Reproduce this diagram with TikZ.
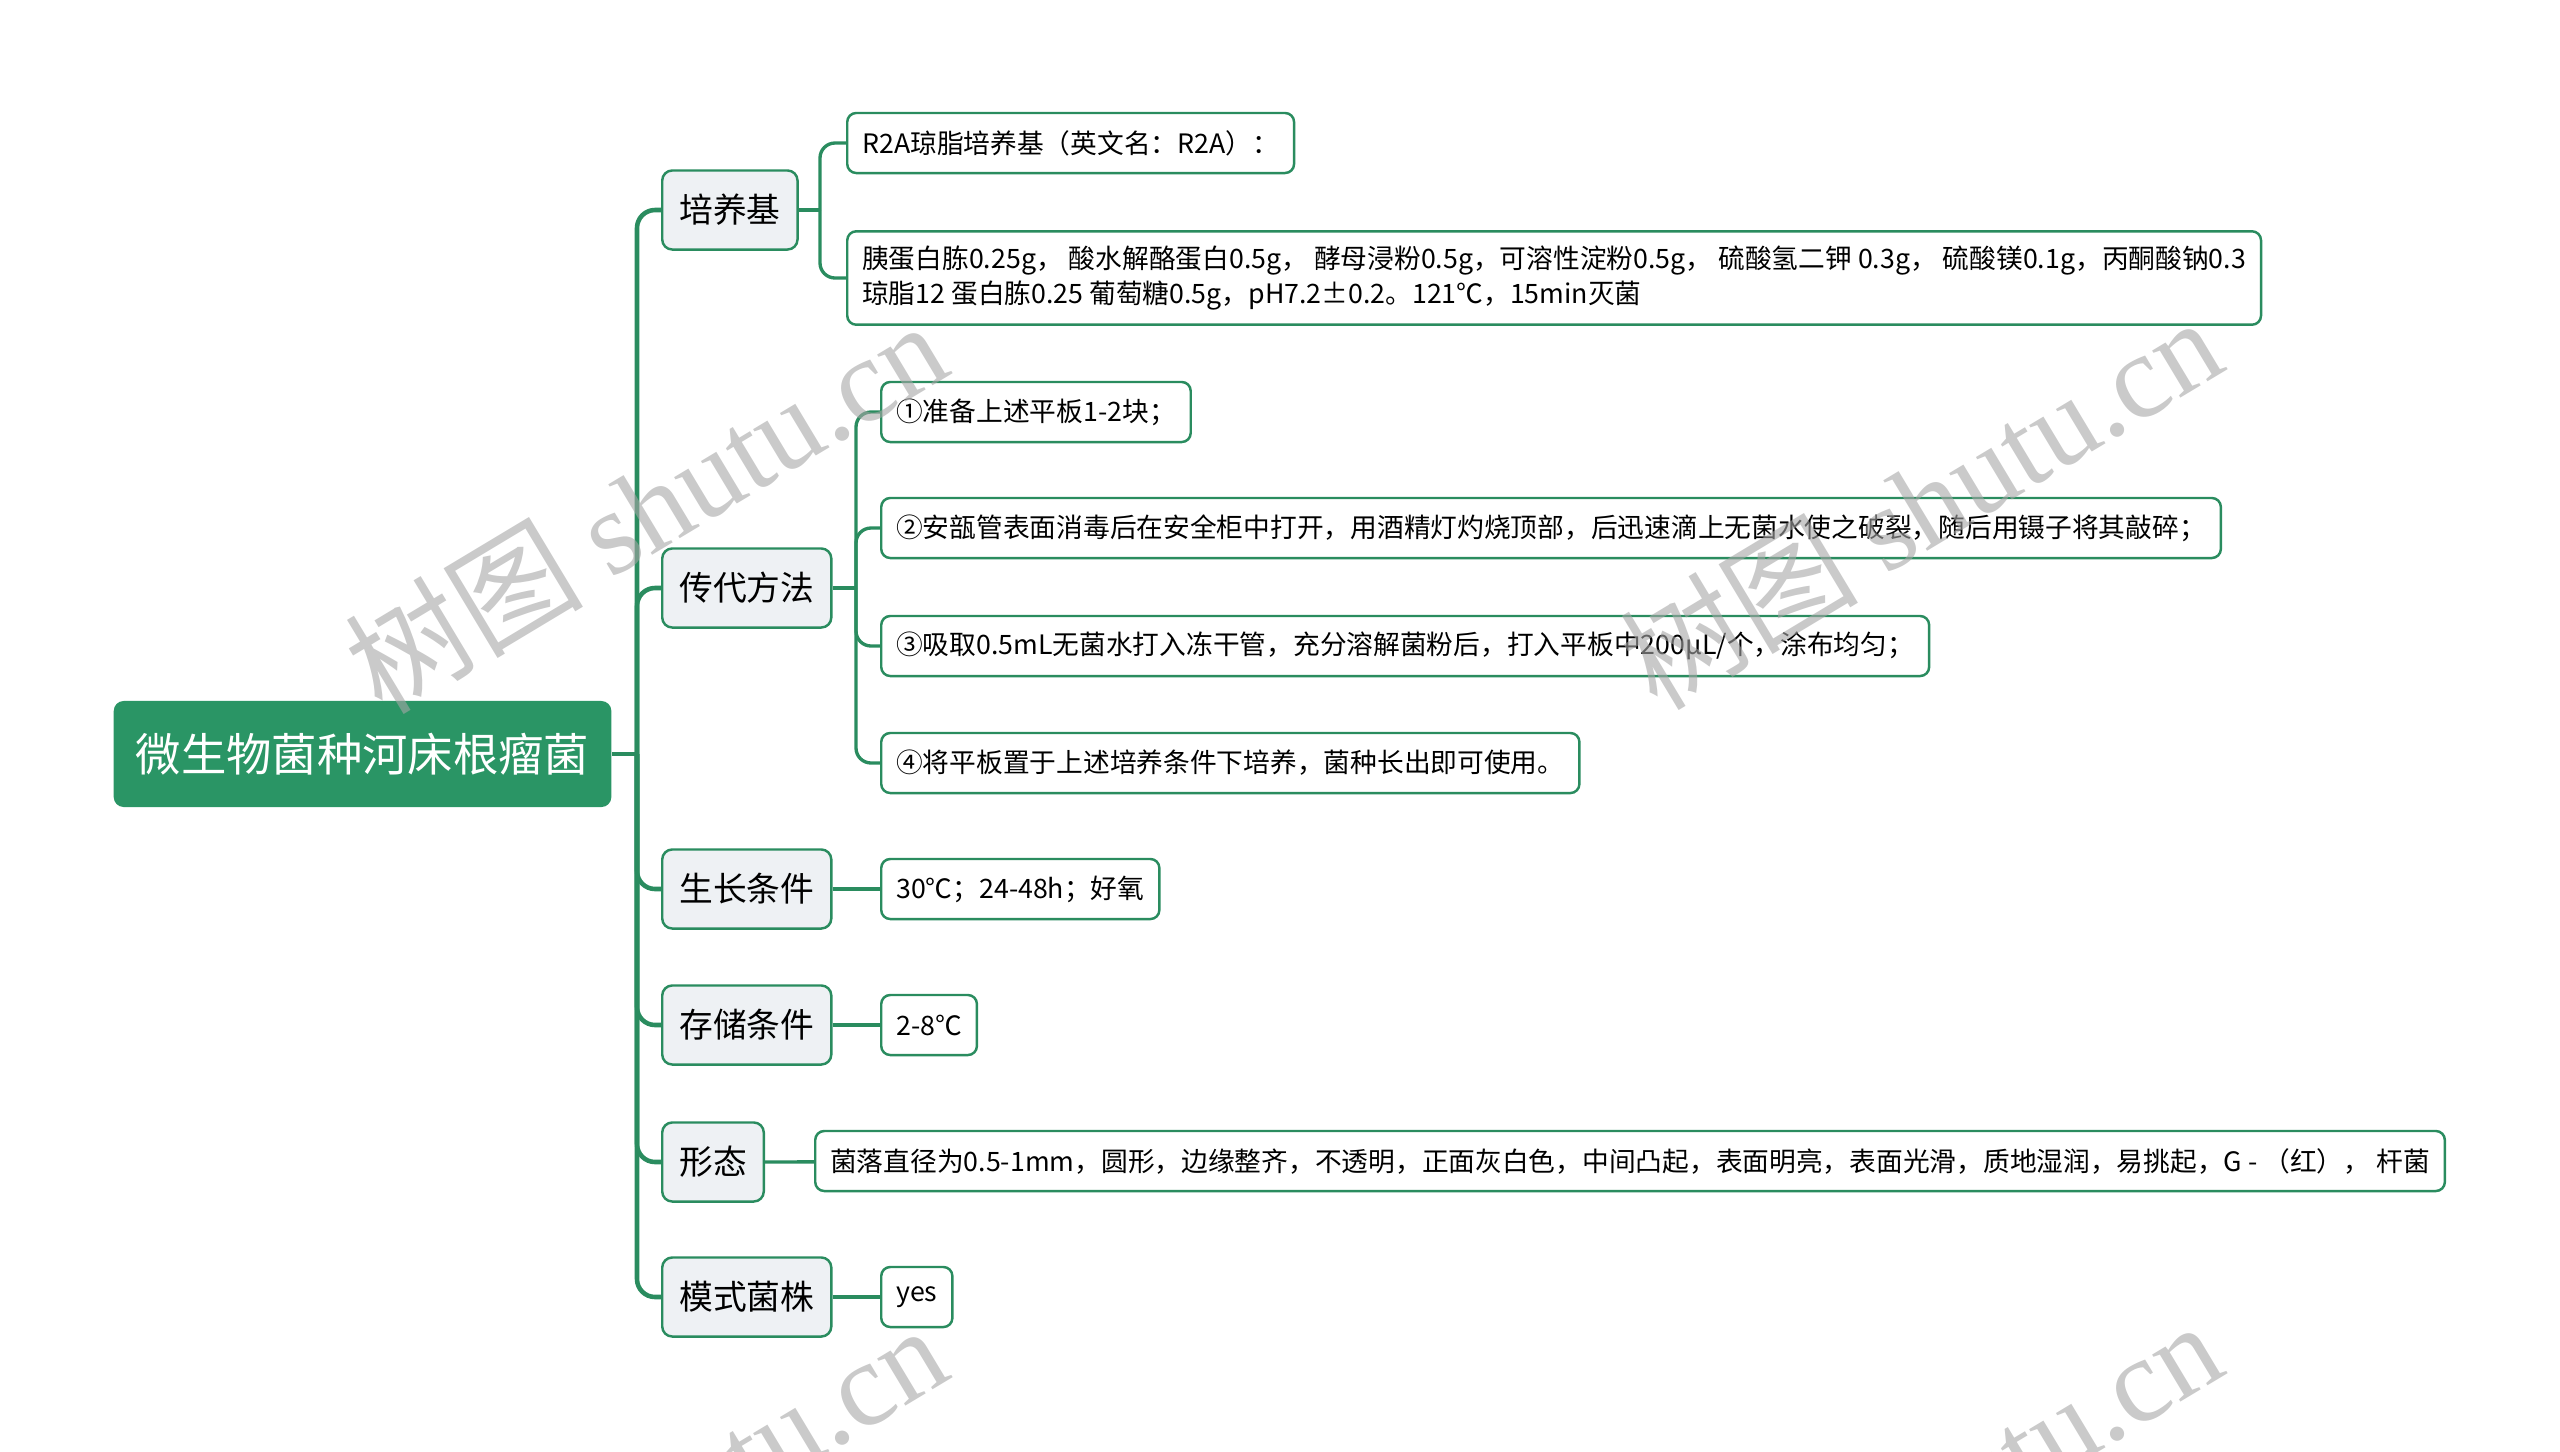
\documentclass[tikz,border=0pt]{standalone}
\usepackage{fontspec}
\setmainfont{Noto Sans CJK SC}
\newfontfamily\marklatin{Liberation Serif}
\definecolor{mapgreen}{HTML}{2A8C5F}
\definecolor{rootgreen}{HTML}{2A9565}
\definecolor{topicgray}{HTML}{EEF1F4}
\begin{document}
\begin{tikzpicture}
[x=0.01cm, y=-0.01cm,%
  rootdecorate/.style={fill=rootgreen, text=white, rounded corners=0.1cm,
    anchor=west, minimum height=1.06cm, inner xsep=0.22cm,
    font=\fontsize{12.9}{14}\selectfont},%
  topicdecorate/.style={draw=mapgreen, line width=0.7pt, fill=topicgray,
    rounded corners=0.1cm, anchor=west, minimum height=0.79cm,
    inner xsep=0.17cm, font=\fontsize{9.6}{11}\selectfont},%
  leafdecorate/.style={draw=mapgreen, line width=0.7pt, fill=white,
    rounded corners=0.09cm, anchor=west, minimum height=0.6cm,
    inner xsep=0.15cm, inner ysep=0.15cm, align=left,
    font=\fontsize{7.6}{9.7}\selectfont},%
  trunkdecorate/.style={draw=mapgreen, line width=1.3pt, rounded corners=0.18cm},%
  linedecorate/.style={draw=mapgreen, line width=0.95pt, rounded corners=0.15cm},%
  markdecorate/.style={text=black!35, opacity=0.6, rotate=31,
    font=\fontsize{34}{34}\selectfont}]
\useasboundingbox (0,0) rectangle (2560,1451);
%% nodes or vertices
\node (root) at (113,754) [rootdecorate] {微生物菌种河床根瘤菌};
\foreach \nodename/\code/\y in {culture/培养基/210, passage/传代方法/588,
  growth/生长条件/889, storage/存储条件/1025, shape/形态/1162, strain/模式菌株/1297} {
  \node (\nodename) at (661,\y) [topicdecorate] {\code};
}
\foreach \nodename/\code/\x/\y in {r2a/{R2A琼脂培养基（英文名：R2A）：}/846/143,
  recipe/{胰蛋白胨0.25g， 酸水解酪蛋白0.5g， 酵母浸粉0.5g，可溶性淀粉0.5g， 硫酸氢二钾 0.3g， 硫酸镁0.1g，丙酮酸钠0.3\\琼脂12 蛋白胨0.25 葡萄糖0.5g，pH7.2±0.2。121℃，15min灭菌}/846/278,
  stepa/{①准备上述平板1-2块；}/880/412,
  stepb/{②安瓿管表面消毒后在安全柜中打开，用酒精灯灼烧顶部，后迅速滴上无菌水使之破裂，随后用镊子将其敲碎；}/880/528,
  stepc/{③吸取0.5mL无菌水打入冻干管，充分溶解菌粉后，打入平板中200μL/个，涂布均匀；}/880/646,
  stepd/{④将平板置于上述培养条件下培养，菌种长出即可使用。}/880/763,
  growthv/{30℃；24-48h；好氧}/880/889, storagev/{2-8℃}/880/1025,
  shapev/{菌落直径为0.5-1mm，圆形，边缘整齐，不透明，正面灰白色，中间凸起，表面明亮，表面光滑，质地湿润，易挑起，G - （红）， 杆菌}/814/1161,
  strainv/{yes}/880/1297} {
  \node (\nodename) at (\x,\y) [leafdecorate] {\code};
}
\coordinate (hub) at (637,754);
\coordinate (culturehub) at (820,210);
\coordinate (passagehub) at (856,588);
%% edges or lines
\draw[linedecorate] (root.east) -- (hub);
\foreach \endnode in {culture, passage, growth, storage, shape, strain} {
  \draw[trunkdecorate] (hub) |- (\endnode.west);
}
\draw[linedecorate] (culture.east) -- (culturehub);
\draw[linedecorate] (passage.east) -- (passagehub);
\foreach \startnode/\endnode in {culturehub/r2a, culturehub/recipe, passagehub/stepa,
  passagehub/stepb, passagehub/stepc, passagehub/stepd} {
  \draw[linedecorate] (\startnode) |- (\endnode.west);
}
\foreach \startnode/\endnode in {growth/growthv, storage/storagev, shape/shapev,
  strain/strainv} {
  \draw[linedecorate] (\startnode) -- (\endnode);
}
%% watermarks
\foreach \nodename/\x/\y in {marka/645/506, markb/1920/502, markc/645/1510, markd/1920/1506} {
  \node (\nodename) at (\x,\y) [markdecorate] {树图 {\marklatin shutu.cn}};
}
\end{tikzpicture}
\end{document}
